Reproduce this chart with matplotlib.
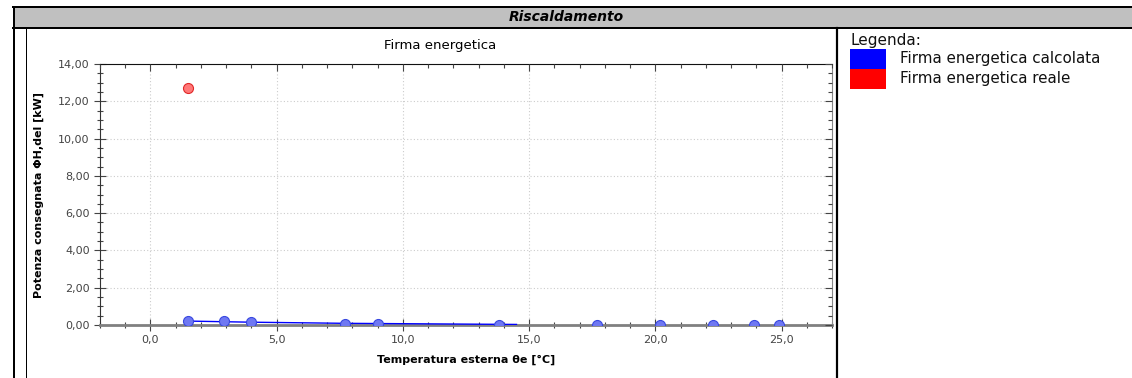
import matplotlib.pyplot as plt
from matplotlib.lines import Line2D
from matplotlib.patches import Rectangle
from matplotlib.ticker import MultipleLocator, FuncFormatter

# dati
temp_calcolata = [1.5, 2.9, 4.0, 7.7, 9.0, 13.8, 17.7, 20.2, 22.3, 23.9, 24.9]
pot_calcolata = [0.21, 0.22, 0.16, 0.08, 0.05, 0.02, 0.0, 0.0, 0.0, 0.0, 0.0]
retta_x = [1.5, 4.0, 7.7, 14.5]
retta_y = [0.21, 0.15, 0.09, 0.03]
temp_reale = [1.5]
pot_reale = [12.72]

legenda_voci = ["Firma energetica calcolata", "Firma energetica reale"]
legenda_colori = ["#0000ff", "#ff0000"]

W, H = 1132, 378


def fx(px):
    return px / W


def fy(py):
    return 1 - py / H


def imposta_tick(a):
    a.set_xlim(-2, 27)
    a.set_ylim(0, 14)
    a.xaxis.set_major_locator(MultipleLocator(5))
    a.xaxis.set_minor_locator(MultipleLocator(1))
    a.yaxis.set_major_locator(MultipleLocator(2))
    a.yaxis.set_minor_locator(MultipleLocator(0.5))


fig = plt.figure(figsize=(W / 100, H / 100), dpi=100)

# cornice e intestazione
fig.patches.append(Rectangle((fx(13), fy(27)), fx(W) - fx(13), fy(7) - fy(27),
                             transform=fig.transFigure, facecolor="#c0c0c0",
                             edgecolor="none", zorder=0))
for (x0, y0, x1, y1, lw) in [(13, 7, W, 7, 2), (13, 27.5, W, 27.5, 2),
                             (13.5, 7, 13.5, H, 2), (25.5, 28, 25.5, H, 1),
                             (837, 28, 837, H, 2.2)]:
    fig.lines.append(Line2D([fx(x0), fx(x1)], [fy(y0), fy(y1)],
                            transform=fig.transFigure, color="black", lw=lw * 0.72))
fig.text(fx(566), fy(17), "Riscaldamento", ha="center", va="center",
         fontsize=10, fontweight="bold", fontstyle="italic", family="DejaVu Sans")

# legenda
fig.text(fx(851), fy(40), "Legenda:", ha="left", va="center", fontsize=11, color="#111111")
for i, (voce, col) in enumerate(zip(legenda_voci, legenda_colori)):
    y_top = 49 + 20 * i
    fig.patches.append(Rectangle((fx(850), fy(y_top + 20)), fx(36), 20 / H,
                                 transform=fig.transFigure, facecolor=col,
                                 edgecolor="none"))
    fig.text(fx(900), fy(y_top + 10), voce, ha="left", va="center",
             fontsize=10.9, color="#111111")

# grafico
pos = [fx(100), fy(325), fx(832) - fx(100), fy(64) - fy(325)]
ax = fig.add_axes(pos)
imposta_tick(ax)
ax.xaxis.set_major_formatter(FuncFormatter(lambda v, p: f"{v:.1f}".replace(".", ",")))
ax.yaxis.set_major_formatter(FuncFormatter(lambda v, p: f"{v:.2f}".replace(".", ",")))
ax.tick_params(which="major", direction="inout", length=8, width=0.8, color="#444444",
               labelsize=8, labelcolor="#444444")
ax.tick_params(which="minor", direction="inout", length=4, width=0.8, color="#444444")
ax.grid(True, which="major", color="#cccccc", linestyle=(0, (1, 2)), lw=0.8)

ax.spines["left"].set_color("#333333")
ax.spines["top"].set_color("#111111")
ax.spines["right"].set_color("#888888")
ax.spines["bottom"].set_color("#808080")
ax.spines["bottom"].set_linewidth(2)

# tick interni sui lati alto e destro
ax2 = fig.add_axes(pos, frameon=False, sharex=ax, sharey=ax)
ax2.patch.set_visible(False)
ax2.tick_params(which="both", direction="in", color="#444444", width=0.8,
                bottom=False, left=False, top=True, right=True,
                labelbottom=False, labelleft=False)
ax2.tick_params(which="major", length=5)
ax2.tick_params(which="minor", length=3)

ax.plot(retta_x, retta_y, color="#0000ff", lw=1, zorder=3)
ax.scatter(temp_calcolata, pot_calcolata, s=52, c="#6f78f2", edgecolors="#3848e0",
           linewidths=0.8, zorder=4, clip_on=True)
ax.scatter(temp_reale, pot_reale, s=52, c="#ff7878", edgecolors="#e02828",
           linewidths=0.8, zorder=4, clip_on=True)

ax.set_xlabel("Temperatura esterna θe [°C]", fontsize=8, fontweight="bold", labelpad=7)
ax.set_ylabel("Potenza consegnata ΦH,del [kW]", fontsize=8, fontweight="bold", labelpad=10)
fig.text(fx(440), fy(46), "Firma energetica", ha="center", va="center", fontsize=9.5)

fig.savefig("out.png", dpi=100)
